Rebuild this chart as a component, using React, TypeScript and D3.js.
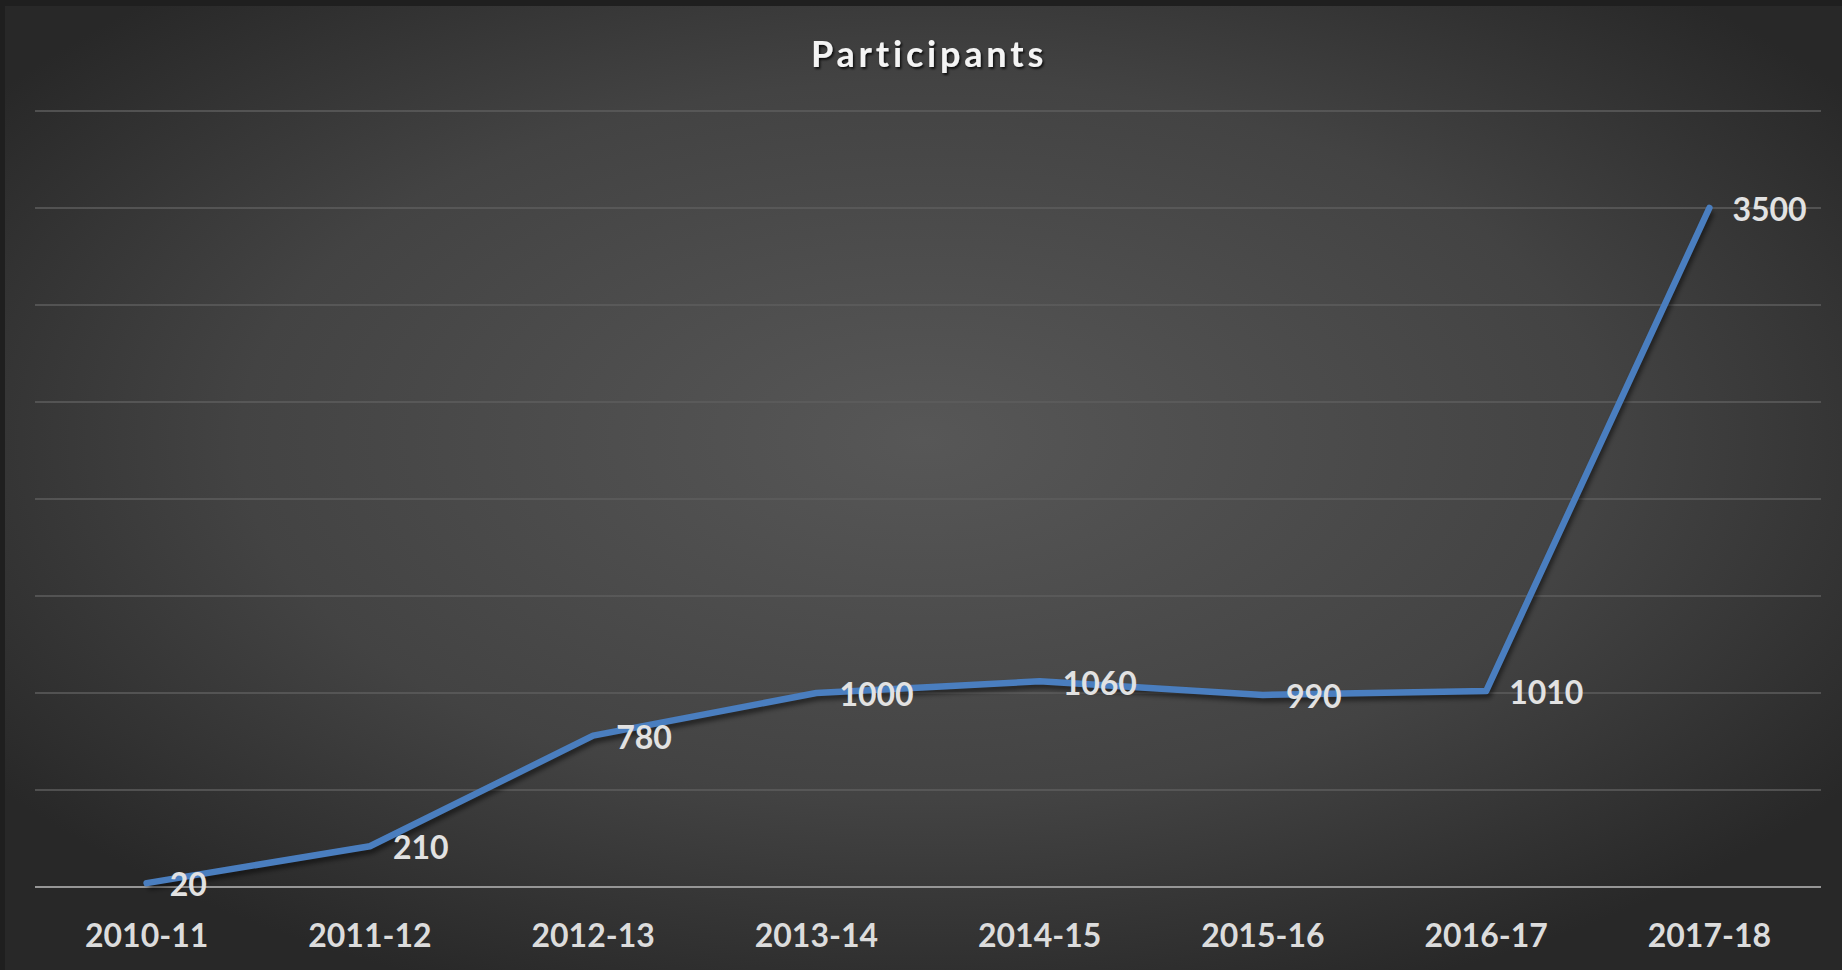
import React, { useEffect, useRef } from "react";
import * as d3 from "d3";

const seasons = ["2010-11", "2011-12", "2012-13", "2013-14", "2014-15", "2015-16", "2016-17", "2017-18"];
const participants = [20, 210, 780, 1000, 1060, 990, 1010, 3500];
const yTicks = [0, 500, 1000, 1500, 2000, 2500, 3000, 3500, 4000];

const W = 1842;
const H = 970;

export default function App() {
  const svgRef = useRef<SVGSVGElement>(null);

  useEffect(() => {
    document.body.style.margin = "0";
    if (!svgRef.current) return;
    const svg = d3.select(svgRef.current);
    svg.selectAll("*").remove();

    const left = 35;
    const right = 1821;
    const top = 111;
    const bottom = 887;

    const x = d3.scaleBand<string>().domain(seasons).range([left, right]);
    const y = d3.scaleLinear().domain([0, 4000]).range([bottom, top]);

    const defs = svg.append("defs");
    const grad = defs
      .append("radialGradient")
      .attr("id", "bg")
      .attr("cx", "50%")
      .attr("cy", "45%")
      .attr("r", "62%");
    grad.append("stop").attr("offset", "0%").attr("stop-color", "#575757");
    grad.append("stop").attr("offset", "60%").attr("stop-color", "#434343");
    grad.append("stop").attr("offset", "100%").attr("stop-color", "#282828");

    const blur = defs.append("filter").attr("id", "blur").attr("x", "-10%").attr("y", "-10%").attr("width", "120%").attr("height", "120%");
    blur.append("feGaussianBlur").attr("stdDeviation", 2.5);

    const txtShadow = defs.append("filter").attr("id", "tshadow");
    txtShadow
      .append("feDropShadow")
      .attr("dx", 1.5)
      .attr("dy", 2)
      .attr("stdDeviation", 1.2)
      .attr("flood-color", "#000")
      .attr("flood-opacity", 0.8);

    // frame and plot background
    svg.append("rect").attr("width", W).attr("height", H).attr("fill", "#1f1f1f");
    svg
      .append("rect")
      .attr("x", 5)
      .attr("y", 6)
      .attr("width", W - 5)
      .attr("height", H - 6)
      .attr("fill", "url(#bg)");

    // gridlines
    svg
      .append("g")
      .selectAll("line")
      .data(yTicks.filter((t) => t > 0))
      .join("line")
      .attr("x1", left)
      .attr("x2", right)
      .attr("y1", (d) => y(d))
      .attr("y2", (d) => y(d))
      .attr("stroke", "#5e5e5e")
      .attr("stroke-width", 1.5);

    // baseline
    svg
      .append("line")
      .attr("x1", left)
      .attr("x2", right)
      .attr("y1", y(0))
      .attr("y2", y(0))
      .attr("stroke", "#969696")
      .attr("stroke-width", 2);

    const cx = (d: string) => (x(d) ?? 0) + x.bandwidth() / 2;
    const pts = seasons.map((s, i) => ({ s, v: participants[i] }));

    const line = d3
      .line<{ s: string; v: number }>()
      .x((d) => cx(d.s))
      .y((d) => y(d.v));

    // line shadow
    svg
      .append("path")
      .datum(pts)
      .attr("d", line)
      .attr("transform", "translate(2,4)")
      .attr("fill", "none")
      .attr("stroke", "#000")
      .attr("stroke-opacity", 0.55)
      .attr("stroke-width", 6)
      .attr("filter", "url(#blur)");

    svg
      .append("path")
      .datum(pts)
      .attr("d", line)
      .attr("fill", "none")
      .attr("stroke", "#4a7ebf")
      .attr("stroke-width", 6.5)
      .attr("stroke-linecap", "round")
      .attr("stroke-linejoin", "round");

    // data labels
    svg
      .append("g")
      .selectAll("text")
      .data(pts)
      .join("text")
      .attr("x", (d) => cx(d.s) + 23)
      .attr("y", (d) => y(d.v) + 5)
      .attr("dominant-baseline", "middle")
      .attr("fill", "#e2e2e2")
      .style("font-family", "Lato, 'Open Sans', sans-serif")
      .style("font-weight", 700)
      .style("font-size", "32px")
      .text((d) => d.v);

    // x axis labels
    svg
      .append("g")
      .selectAll("text")
      .data(seasons)
      .join("text")
      .attr("x", (d) => cx(d))
      .attr("y", 947)
      .attr("text-anchor", "middle")
      .attr("fill", "#dcdcdc")
      .style("font-family", "Lato, 'Open Sans', sans-serif")
      .style("font-weight", 700)
      .style("font-size", "32px")
      .text((d) => d);

    // title
    svg
      .append("text")
      .attr("x", 929)
      .attr("y", 67)
      .attr("text-anchor", "middle")
      .attr("fill", "#f4f4f4")
      .attr("filter", "url(#tshadow)")
      .style("font-family", "Lato, 'Open Sans', sans-serif")
      .style("font-weight", 700)
      .style("font-size", "36px")
      .style("letter-spacing", "3.8px")
      .text("Participants");
  }, []);

  return <svg ref={svgRef} width={W} height={H} style={{ display: "block" }} />;
}
